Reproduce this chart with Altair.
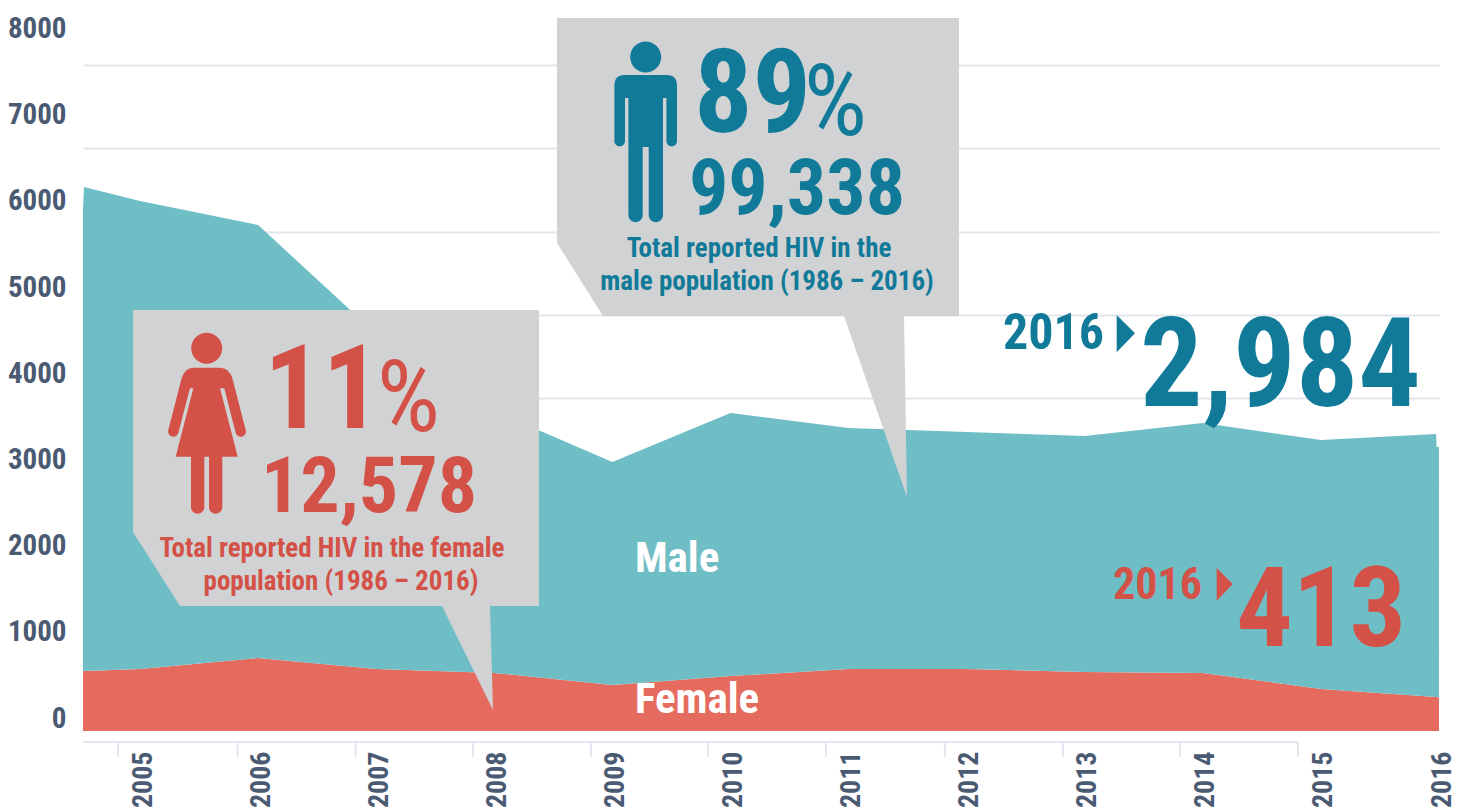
import altair as alt
import pandas as pd

# ---- data ----
years = [2004.517, 2004.525, 2005, 2006, 2007, 2008, 2009, 2010, 2011, 2012, 2013, 2014, 2015, 2015.975, 2015.98, 2016]
female = [721, 721, 745, 877, 745, 697, 553, 660, 745, 745, 709, 697, 505, 408, 408, 400]
male = [5537, 5814, 5621, 5201, 4025, 3147, 2678, 3160, 2895, 2847, 2835, 3003, 2990, 3160, 3004, 3012]
grid_values = [1000, 2000, 3000, 4000, 5000, 6000, 7000, 8000]
y_labels = [0, 1000, 2000, 3000, 4000, 5000, 6000, 7000, 8000]
year_labels = list(range(2005, 2017))
tick_years = [2004.814, 2005.826, 2006.825, 2007.820, 2008.819, 2009.810, 2010.809, 2011.816, 2012.815, 2013.806, 2014.805]

TEAL_AREA, RED_AREA = "#6fbdc5", "#e66b5f"
TEAL, RED = "#127a99", "#d45147"
GREY, SLATE, GRID = "#d0d2d4", "#4a5a72", "#e2e6ee"
FONT = "Roboto Condensed"

# annotation text: string, page x, page baseline y, size, colour, align, weight
texts = [
    ("89", 694, 132, 116, TEAL, "left", "bold"),
    ("%", 867, 135, 100, TEAL, "right", "normal"),
    ("99,338", 797, 214, 78, TEAL, "center", "bold"),
    ("Total reported HIV in the", 759, 257, 27, TEAL, "center", "bold"),
    ("male population (1986 – 2016)", 767, 290, 27, TEAL, "center", "bold"),
    ("11", 264, 428, 116, RED, "left", "bold"),
    ("%", 440, 431, 100, RED, "right", "normal"),
    ("12,578", 369, 512, 78, RED, "center", "bold"),
    ("Total reported HIV in the female", 332, 557, 27, RED, "center", "bold"),
    ("population (1986 – 2016)", 341, 590, 27, RED, "center", "bold"),
    ("2016", 1104, 349, 50, TEAL, "right", "bold"),
    ("2,984", 1421, 406, 124, TEAL, "right", "bold"),
    ("2016", 1202, 599, 44, RED, "right", "bold"),
    ("413", 1406, 646, 112, RED, "right", "bold"),
    ("Male", 635, 572, 43, "#ffffff", "left", "bold"),
    ("Female", 635, 713, 43, "#ffffff", "left", "bold"),
]

# shapes, drawn from page point (8, 8)
male_box = "M549,10 L951,10 L951,308 L896,308 L899,489 L836,308 L595,308 L549,235 Z"
female_box = "M125,302 L531,302 L531,598 L482,598 L485,702 L434,598 L172,598 L125,524 Z"
man = ("M622.2,49 a15.5,15.5 0 1,0 31,0 a15.5,15.5 0 1,0 -31,0 Z "
       "M616,67 L659,67 Q669,67 669,78 L669,133 A5.3,5.3 0 0 1 658.4,133 L658.4,90 L655,90 L655,207 "
       "A7.15,7.15 0 0 1 640.7,207 L640.7,139 L634.7,139 L634.7,207 A7.15,7.15 0 0 1 620.4,207 "
       "L620.4,90 L617,90 L617,133 A5.3,5.3 0 0 1 606.4,133 L606.4,78 Q606.4,67 616,67 Z")
woman = ("M183.2,340.3 a15.5,15.5 0 1,0 31,0 a15.5,15.5 0 1,0 -31,0 Z "
         "M185,359.7 L212,359.7 Q221,360 224.3,370 L237.7,422 A5.2,5.2 0 0 1 227.7,425 L216.3,380.3 L212,380.3 "
         "L229.7,448.7 L214.3,448.7 L214.3,499 A6.65,6.65 0 0 1 201,499 L201,448.7 L196.3,448.7 L196.3,499 "
         "A6.65,6.65 0 0 1 183,499 L183,448.7 L167.7,448.7 L185.3,380.3 L182,380.3 L170.3,425 "
         "A5.2,5.2 0 0 1 160.3,422 L173.7,370 Q177,360 185,359.7 Z")
shapes = [
    (male_box, GREY), (female_box, GREY), (man, TEAL), (woman, RED),
    ("M1108.7,307 L1127,325.3 L1108.7,344.3 Z", TEAL),
    ("M1208.7,560 L1224.7,576 L1208.7,592.7 Z", RED),
]

# ---- chart ----
OX, OY = 83, 65
x_scale = alt.Scale(domain=[2004.517, 2016], nice=False, zero=False)
y_scale = alt.Scale(domain=[0, 8000], nice=False)
x_axis = alt.Axis(values=year_labels, format="d", labelAngle=270, labelPadding=20, labelOffset=3,
                  labelFont=FONT, labelFontSize=28, labelFontWeight="bold", labelColor=SLATE,
                  domain=False, ticks=False, grid=False, title=None, labelOverlap=False, labelFlush=False)
y_axis = alt.Axis(values=grid_values, labels=False, ticks=False, domain=False, grid=True,
                  gridColor=GRID, gridWidth=2, title=None)

X = lambda f: alt.X(f, scale=x_scale, axis=x_axis)
Y = lambda f, **k: alt.Y(f, scale=y_scale, axis=y_axis, **k)

df = pd.concat([
    pd.DataFrame({"x": years, "v": female, "s": "Female", "o": 0}),
    pd.DataFrame({"x": years, "v": male, "s": "Male", "o": 1}),
])
areas = alt.Chart(df).mark_area(opacity=1, interpolate="linear").encode(
    x=X("x:Q"),
    y=Y("v:Q", stack="zero"),
    order=alt.Order("o:Q"),
    color=alt.Color("s:N", scale=alt.Scale(domain=["Female", "Male"], range=[RED_AREA, TEAL_AREA]), legend=None),
)

tick_df = pd.DataFrame({"x": tick_years, "y0": -132, "y1": -312})
ticks = alt.Chart(tick_df).mark_rule(color=GRID, strokeWidth=2).encode(
    x=X("x:Q"), y=Y("y0:Q"), y2="y1:Q")
line_df = pd.DataFrame({"x": [years[0]], "x1": [tick_years[-1]], "y0": [-132]})
xline = alt.Chart(line_df).mark_rule(color=GRID, strokeWidth=2).encode(
    x=X("x:Q"), x2="x1:Q", y=Y("y0:Q"))

anchor = pd.DataFrame({"a": [0]})
shape_layers = [
    alt.Chart(anchor).mark_point(shape=p, size=4, filled=True, fill=c, stroke=None, opacity=1, clip=False).encode(
        x=alt.value(8 - OX), y=alt.value(8 - OY))
    for p, c in shapes
]
text_layers = [
    alt.Chart(pd.DataFrame({"t": [t]})).mark_text(font=FONT, fontSize=s, fontWeight=w, color=c, align=a,
                                                  baseline="alphabetic").encode(
        x=alt.value(px - OX), y=alt.value(py - OY), text="t:N")
    for t, px, py, s, c, a, w in texts
]
main = alt.layer(areas, xline, ticks, *shape_layers, *text_layers)

ylab = alt.Chart(pd.DataFrame({"v": y_labels})).mark_rule(opacity=0).encode(
    y=alt.Y("v:Q", scale=alt.Scale(domain=[0, 8000], range=[653, -36.5], nice=False),
            axis=alt.Axis(values=y_labels, format="d", orient="left", labelFont=FONT, labelFontSize=29,
                          labelFontWeight="bold", labelColor=SLATE, labelPadding=17,
                          domain=False, ticks=False, grid=False, title=None, labelOverlap=False,
                          labelFlush=False, labelBaseline="middle"))
)

chart = alt.layer(main, ylab).resolve_scale(y="independent").properties(
    width=1356, height=666, autosize="none",
    padding={"left": 75, "top": 57, "right": 23, "bottom": 79},
).configure_view(stroke=None)

chart.save("out.html", embed_options={"renderer": "svg", "actions": False})
